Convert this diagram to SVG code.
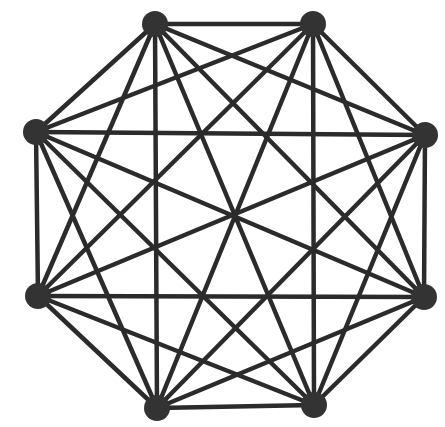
<svg xmlns="http://www.w3.org/2000/svg" width="445" height="427" viewBox="0 0 445 427">
<style>
.e{stroke:#2b2b2b;stroke-width:4.5;stroke-linecap:round}
.n{fill:#333}
</style>
<rect width="445" height="427" fill="#fff"/>
<g id="connectors">
<line class="e" x1="155" y1="24" x2="313" y2="24"/>
<line class="e" x1="155" y1="24" x2="425" y2="135"/>
<line class="e" x1="155" y1="24" x2="424" y2="297"/>
<line class="e" x1="155" y1="24" x2="314" y2="405"/>
<line class="e" x1="155" y1="24" x2="157" y2="408"/>
<line class="e" x1="155" y1="24" x2="38" y2="296"/>
<line class="e" x1="155" y1="24" x2="36" y2="132"/>
<line class="e" x1="313" y1="24" x2="425" y2="135"/>
<line class="e" x1="313" y1="24" x2="424" y2="297"/>
<line class="e" x1="313" y1="24" x2="314" y2="405"/>
<line class="e" x1="313" y1="24" x2="157" y2="408"/>
<line class="e" x1="313" y1="24" x2="38" y2="296"/>
<line class="e" x1="313" y1="24" x2="36" y2="132"/>
<line class="e" x1="425" y1="135" x2="424" y2="297"/>
<line class="e" x1="425" y1="135" x2="314" y2="405"/>
<line class="e" x1="425" y1="135" x2="157" y2="408"/>
<line class="e" x1="425" y1="135" x2="38" y2="296"/>
<line class="e" x1="425" y1="135" x2="36" y2="132"/>
<line class="e" x1="424" y1="297" x2="314" y2="405"/>
<line class="e" x1="424" y1="297" x2="157" y2="408"/>
<line class="e" x1="424" y1="297" x2="38" y2="296"/>
<line class="e" x1="424" y1="297" x2="36" y2="132"/>
<line class="e" x1="314" y1="405" x2="157" y2="408"/>
<line class="e" x1="314" y1="405" x2="38" y2="296"/>
<line class="e" x1="314" y1="405" x2="36" y2="132"/>
<line class="e" x1="157" y1="408" x2="38" y2="296"/>
<line class="e" x1="157" y1="408" x2="36" y2="132"/>
<line class="e" x1="38" y1="296" x2="36" y2="132"/>
</g>
<g id="n1"><circle class="n" cx="155" cy="24" r="13"/></g>
<g id="n2"><circle class="n" cx="313" cy="24" r="13"/></g>
<g id="n3"><circle class="n" cx="425" cy="135" r="13"/></g>
<g id="n4"><circle class="n" cx="424" cy="297" r="13"/></g>
<g id="n5"><circle class="n" cx="314" cy="405" r="13"/></g>
<g id="n6"><circle class="n" cx="157" cy="408" r="13"/></g>
<g id="n7"><circle class="n" cx="38" cy="296" r="13"/></g>
<g id="n8"><circle class="n" cx="36" cy="132" r="13"/></g>
</svg>
